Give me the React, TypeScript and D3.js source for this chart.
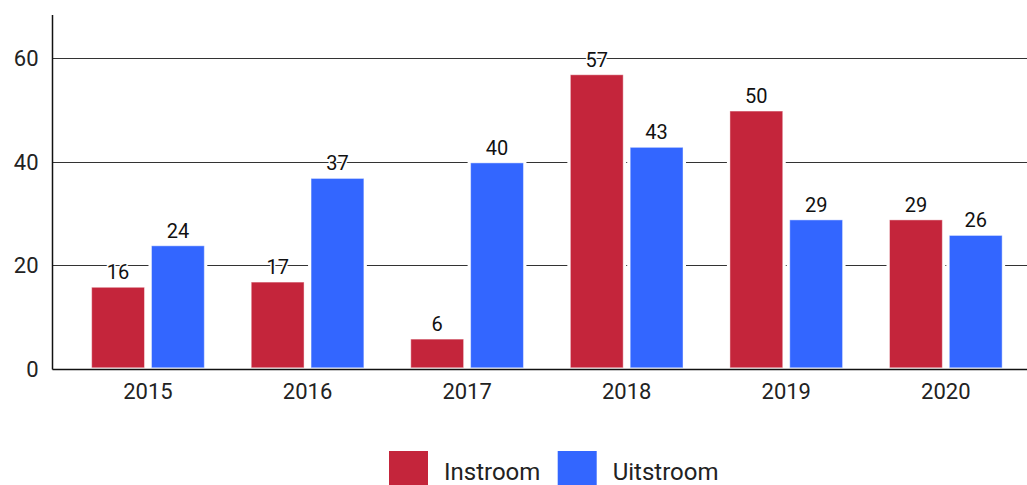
import React from "react";
import * as d3 from "d3";

const years = ["2015", "2016", "2017", "2018", "2019", "2020"];
const instroom = [16, 17, 6, 57, 50, 29];
const uitstroom = [24, 37, 40, 43, 29, 26];
const seriesNames = ["Instroom", "Uitstroom"];
const seriesColors = ["#C4253B", "#3366FF"];
const yTicks = [0, 20, 40, 60];

const W = 1027;
const H = 485;
const FONT = "Roboto, 'Noto Sans', sans-serif";

export default function App() {
  const axisX = 52.5;
  const y = d3.scaleLinear().domain([0, 68.3]).range([369, 15]);
  const x0 = d3
    .scaleBand<string>()
    .domain(years)
    .range([68.2, 1025.6])
    .paddingInner(0.294)
    .paddingOuter(0.147);
  const x1 = d3
    .scaleBand<string>()
    .domain(seriesNames)
    .range([0, x0.bandwidth()])
    .paddingInner(0.117);
  const data = [instroom, uitstroom];
  const inset = 1.2;

  return (
    <svg
      width={W}
      height={H}
      style={{ position: "absolute", left: 0, top: 0, background: "#fff" }}
      fontFamily={FONT}
    >
      {/* gridlines */}
      {yTicks
        .filter((t) => t > 0)
        .map((t) => (
          <line
            key={t}
            x1={axisX}
            x2={W}
            y1={Math.round(y(t)) + 0.5}
            y2={Math.round(y(t)) + 0.5}
            stroke="#333"
            strokeWidth={1}
          />
        ))}
      {/* y tick labels */}
      {yTicks.map((t) => (
        <text
          key={t}
          x={38.5}
          y={y(t)}
          dy="0.36em"
          textAnchor="end"
          fontSize={22}
          fill="#222"
        >
          {t}
        </text>
      ))}
      {/* bars */}
      {years.map((yr, i) => (
        <g key={yr} transform={`translate(${x0(yr)},0)`}>
          {seriesNames.map((s, j) => {
            const v = data[j][i];
            const bx = x1(s)!;
            const bw = x1.bandwidth();
            return (
              <g key={s}>
                <rect
                  x={bx}
                  y={y(v)}
                  width={bw}
                  height={y(0) - y(v)}
                  fill="#fff"
                  stroke="#fff"
                  strokeWidth={6}
                />
                <rect
                  x={bx}
                  y={y(v) + inset}
                  width={bw}
                  height={y(0) - y(v) - 2 * inset}
                  fill={seriesColors[j]}
                  stroke="rgba(255,255,255,0.45)"
                  strokeWidth={1}
                />
              </g>
            );
          })}
        </g>
      ))}
      {/* value labels */}
      {years.map((yr, i) =>
        seriesNames.map((s, j) => {
          const v = data[j][i];
          return (
            <text
              key={yr + s}
              x={x0(yr)! + x1(s)! + x1.bandwidth() / 2}
              y={y(v) - 7}
              textAnchor="middle"
              fontSize={20}
              fill="#111"
              stroke="#fff"
              strokeWidth={3}
              paintOrder="stroke"
            >
              {v}
            </text>
          );
        })
      )}
      {/* axes */}
      <line x1={axisX} x2={axisX} y1={15} y2={y(0) + 0.5} stroke="#111" strokeWidth={1.5} />
      <line x1={axisX} x2={W} y1={y(0) + 0.5} y2={y(0) + 0.5} stroke="#111" strokeWidth={1.5} />
      {/* x labels */}
      {years.map((yr) => (
        <text
          key={yr}
          x={x0(yr)! + x0.bandwidth() / 2}
          y={399}
          textAnchor="middle"
          fontSize={22}
          fill="#222"
        >
          {yr}
        </text>
      ))}
      {/* legend */}
      {seriesNames.map((s, j) => {
        const lx = [389, 557.7][j];
        return (
          <g key={s}>
            <rect x={lx} y={451} width={39} height={40} fill={seriesColors[j]} />
            <text x={lx + 55} y={479.5} fontSize={24} fill="#222">
              {s}
            </text>
          </g>
        );
      })}
    </svg>
  );
}
